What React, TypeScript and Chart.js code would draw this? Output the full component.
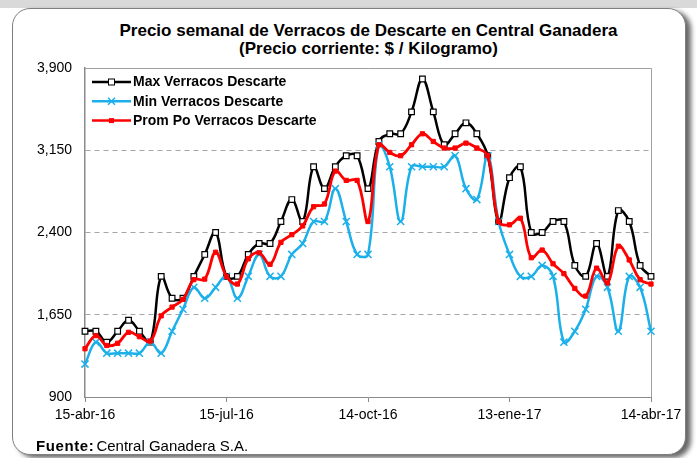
import React, { useEffect, useRef } from 'react';
import { Chart, registerables } from 'chart.js';

Chart.register(...registerables);

const categories = [
  '15-abr-16', '22-abr-16', '29-abr-16', '06-may-16', '13-may-16', '20-may-16', '27-may-16',
  '03-jun-16', '10-jun-16', '17-jun-16', '24-jun-16', '01-jul-16', '08-jul-16', '15-jul-16',
  '22-jul-16', '29-jul-16', '05-ago-16', '12-ago-16', '19-ago-16', '26-ago-16', '02-sep-16',
  '09-sep-16', '16-sep-16', '23-sep-16', '30-sep-16', '07-oct-16', '14-oct-16', '21-oct-16',
  '28-oct-16', '04-nov-16', '11-nov-16', '18-nov-16', '25-nov-16', '02-dic-16', '09-dic-16',
  '16-dic-16', '23-dic-16', '30-dic-16', '06-ene-17', '13-ene-17', '20-ene-17', '27-ene-17',
  '03-feb-17', '10-feb-17', '17-feb-17', '24-feb-17', '03-mar-17', '10-mar-17', '17-mar-17',
  '24-mar-17', '31-mar-17', '07-abr-17', '14-abr-17',
];

const xTickLabels = ['15-abr-16', '15-jul-16', '14-oct-16', '13-ene-17', '14-abr-17'];
const yTickValues = [900, 1650, 2400, 3150, 3900];

const maxValues = [
  1500, 1500, 1400, 1500, 1600, 1500, 1400, 2000, 1800, 1800,
  2000, 2200, 2400, 2000, 2000, 2200, 2300, 2300, 2500, 2700,
  2500, 3000, 2800, 3000, 3100, 3100, 2800, 3230, 3300, 3300,
  3500, 3800, 3500, 3200, 3300, 3400, 3300, 3100, 2500, 2900,
  3000, 2400, 2400, 2500, 2500, 2100, 2000, 2300, 2000, 2600,
  2500, 2100, 2000,
];

const minValues = [
  1200, 1400, 1300, 1300, 1300, 1300, 1400, 1300, 1500, 1700,
  1900, 1800, 1900, 2000, 1800, 2000, 2200, 2000, 2000, 2200,
  2300, 2500, 2500, 2800, 2500, 2200, 2200, 3200, 3000, 2500,
  3000, 3000, 3000, 3000, 3100, 2800, 2700, 3100, 2500, 2200,
  2000, 2000, 2100, 2000, 1400, 1500, 1700, 2000, 1900, 1500,
  2000, 1900, 1500,
];

const avgValues = [
  1340, 1460, 1370, 1390, 1490, 1450, 1410, 1640, 1720, 1790,
  1970, 1975, 2220, 2000, 1930, 2160, 2215, 2110, 2310, 2380,
  2460, 2635, 2660, 2960, 2875, 2875, 2500, 3200, 3130, 3100,
  3200, 3300, 3230, 3170, 3170, 3215, 3170, 3100, 2500, 2470,
  2530, 2170, 2240, 2115, 2025, 1890, 1820, 2075, 1940, 2275,
  2150, 1970, 1930,
];

const seriesNames = ['Max Verracos Descarte', 'Min Verracos Descarte', 'Prom Po Verracos Descarte'];
const titleLines = ['Precio semanal de Verracos de Descarte en Central Ganadera', '(Precio corriente: $ / Kilogramo)'];
const sourceLabel = 'Fuente:';
const sourceText = 'Central Ganadera S.A.';

const FONT = '"Liberation Sans", Arial, Helvetica, sans-serif';
const BLACK = '#000000';
const BLUE = '#1cb0ea';
const RED = '#ff0000';
const AXIS = '#8a8a8a';

const plotFramePlugin = {
  id: 'plotFrame',
  beforeDatasetsDraw(chart: any) {
    const { ctx, chartArea: a } = chart;
    ctx.save();
    ctx.strokeStyle = '#a0a0a0';
    ctx.lineWidth = 1;
    ctx.beginPath();
    ctx.moveTo(a.left, a.top + 0.5);
    ctx.lineTo(a.right + 0.5, a.top + 0.5);
    ctx.lineTo(a.right + 0.5, a.bottom);
    ctx.stroke();
    ctx.restore();
  },
};

const insideLegendPlugin = {
  id: 'insideLegend',
  afterDatasetsDraw(chart: any) {
    const { ctx, chartArea: a } = chart;
    const x0 = a.left + 7;
    const x1 = a.left + 46;
    const xm = (x0 + x1) / 2;
    chart.data.datasets.forEach((ds: any, i: number) => {
      const y = a.top + 14 + i * 19.3;
      ctx.save();
      ctx.strokeStyle = ds.borderColor;
      ctx.lineWidth = 2.5;
      ctx.beginPath();
      ctx.moveTo(x0, y);
      ctx.lineTo(x1, y);
      ctx.stroke();
      if (i === 0) {
        ctx.fillStyle = '#fff';
        ctx.fillRect(xm - 3, y - 3, 6, 6);
        ctx.strokeStyle = '#000';
        ctx.lineWidth = 1;
        ctx.strokeRect(xm - 3, y - 3, 6, 6);
      } else if (i === 1) {
        ctx.strokeStyle = ds.borderColor;
        ctx.lineWidth = 1.5;
        ctx.beginPath();
        ctx.moveTo(xm - 3.5, y - 3.5);
        ctx.lineTo(xm + 3.5, y + 3.5);
        ctx.moveTo(xm - 3.5, y + 3.5);
        ctx.lineTo(xm + 3.5, y - 3.5);
        ctx.stroke();
      } else {
        ctx.fillStyle = ds.borderColor;
        ctx.fillRect(xm - 2.5, y - 2.5, 5, 5);
      }
      ctx.fillStyle = '#000';
      ctx.font = `bold 14px ${FONT}`;
      ctx.textAlign = 'left';
      ctx.textBaseline = 'middle';
      ctx.fillText(ds.label, x1 + 2, y + 0.5);
      ctx.restore();
    });
  },
};

function PriceChart() {
  const canvasRef = useRef<HTMLCanvasElement | null>(null);

  useEffect(() => {
    const canvas = canvasRef.current;
    if (!canvas) return;
    const chart = new Chart(canvas, {
      type: 'line',
      data: {
        labels: categories,
        datasets: [
          {
            label: seriesNames[0],
            data: maxValues,
            borderColor: BLACK,
            backgroundColor: BLACK,
            borderWidth: 2.5,
            tension: 0.4,
            pointStyle: 'rect',
            pointRadius: 4,
            pointBackgroundColor: '#ffffff',
            pointBorderColor: BLACK,
            pointBorderWidth: 1.2,
            order: 2,
          },
          {
            label: seriesNames[1],
            data: minValues,
            borderColor: BLUE,
            backgroundColor: BLUE,
            borderWidth: 2.5,
            tension: 0.4,
            pointStyle: 'crossRot',
            pointRadius: 5,
            pointBorderColor: BLUE,
            pointBorderWidth: 1.5,
            order: 1,
          },
          {
            label: seriesNames[2],
            data: avgValues,
            borderColor: RED,
            backgroundColor: RED,
            borderWidth: 2.8,
            tension: 0.4,
            pointStyle: 'rect',
            pointRadius: 3,
            pointBackgroundColor: RED,
            pointBorderColor: RED,
            pointBorderWidth: 1,
            order: 0,
          },
        ],
      },
      options: {
        responsive: false,
        animation: false,
        devicePixelRatio: 1,
        layout: { padding: { left: 0, top: 68, right: 46, bottom: 0 } },
        plugins: {
          legend: { display: false },
          title: { display: false },
          tooltip: { enabled: false },
        },
        scales: {
          x: {
            type: 'category',
            offset: false,
            afterFit: (s: any) => {
              s.height = 61;
            },
            grid: {
              display: true,
              drawOnChartArea: false,
              drawTicks: true,
              tickLength: 5,
              tickWidth: 1,
              tickColor: (c: any) =>
                xTickLabels.includes(categories[c.index]) ? AXIS : 'rgba(0,0,0,0)',
            },
            border: { display: true, color: AXIS, width: 1 },
            ticks: {
              autoSkip: false,
              maxRotation: 0,
              minRotation: 0,
              padding: 5,
              color: '#000',
              font: { family: FONT, size: 14 },
              callback: (_v: any, i: number) =>
                xTickLabels.includes(categories[i]) ? categories[i] : '',
            },
          },
          y: {
            type: 'linear',
            min: yTickValues[0],
            max: yTickValues[yTickValues.length - 1],
            afterFit: (s: any) => {
              s.width = 85;
            },
            afterBuildTicks: (s: any) => {
              s.ticks = yTickValues.map((v) => ({ value: v }));
            },
            grid: {
              drawTicks: false,
              lineWidth: 1,
              color: (c: any) =>
                c.tick && (c.tick.value === yTickValues[0] || c.tick.value === yTickValues[yTickValues.length - 1])
                  ? 'rgba(0,0,0,0)'
                  : '#a6a6a6',
            },
            border: { display: true, color: AXIS, width: 1.5, dash: [5, 4] },
            ticks: {
              padding: 13,
              color: '#000',
              font: { family: FONT, size: 14 },
              callback: (v: any) => Number(v).toLocaleString('en-US'),
            },
          },
        },
      },
      plugins: [plotFramePlugin, insideLegendPlugin],
    });
    return () => chart.destroy();
  }, []);

  return (
    <canvas
      ref={canvasRef}
      width={697}
      height={458}
      style={{ position: 'absolute', left: 0, top: 0, width: 697, height: 458 }}
    />
  );
}

export default function App() {
  return (
    <div
      style={{
        position: 'fixed',
        left: 0,
        top: 0,
        width: 697,
        height: 458,
        overflow: 'hidden',
        background: '#ffffff',
        fontFamily: FONT,
      }}
    >
      <div style={{ position: 'absolute', left: 0, top: 0, width: 697, height: 8, background: '#d9d9d9' }} />
      <div
        style={{
          position: 'absolute',
          left: 12,
          top: 8,
          width: 672,
          height: 445,
          border: '1px solid #7f7f7f',
          borderRadius: 18,
          background: '#ffffff',
          boxShadow: '5px 3px 5px rgba(0,0,0,0.6)',
        }}
      />
      <div
        style={{
          position: 'absolute',
          left: 0,
          top: 22,
          width: 737,
          textAlign: 'center',
          fontWeight: 'bold',
          fontSize: 17,
          lineHeight: '18px',
          color: '#000',
        }}
      >
        <div>{titleLines[0]}</div>
        <div>{titleLines[1]}</div>
      </div>
      <PriceChart />
      <div
        style={{
          position: 'absolute',
          left: 36,
          top: 437,
          fontSize: 15,
          lineHeight: '18px',
          color: '#000',
          whiteSpace: 'nowrap',
        }}
      >
        <span style={{ fontWeight: 'bold', letterSpacing: 0.6 }}>{sourceLabel}</span>
        <span style={{ marginLeft: 2 }}>{sourceText}</span>
      </div>
    </div>
  );
}
